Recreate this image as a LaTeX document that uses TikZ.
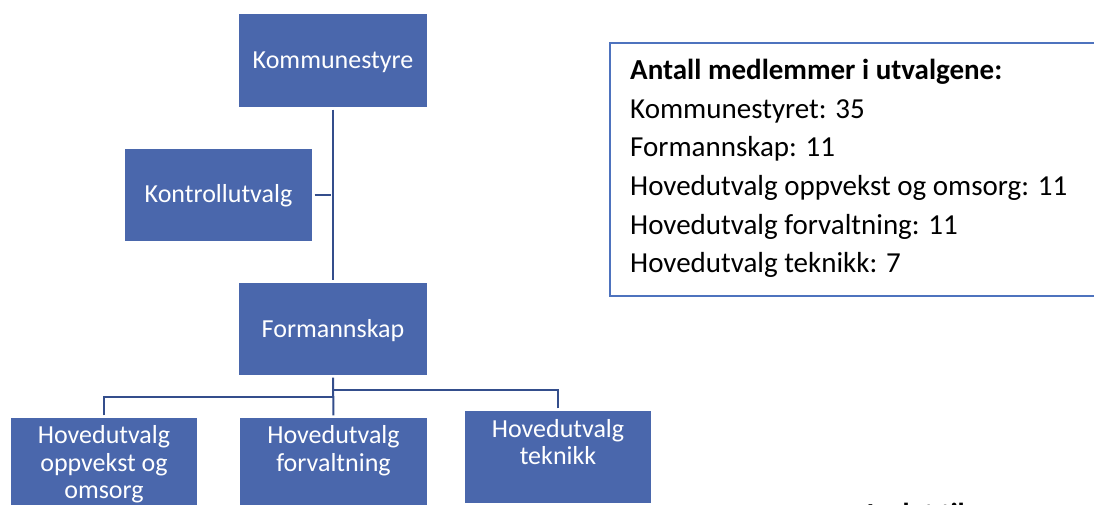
\documentclass[tikz,border=0pt]{standalone}
\usepackage{fontspec}
\setmainfont{Carlito}
\definecolor{boxfill}{RGB}{74,103,172}
\definecolor{conncol}{RGB}{52,78,140}
\definecolor{tbcol}{RGB}{78,115,190}
\begin{document}
\begin{tikzpicture}[x=1pt,y=-1pt,
  box/.style={fill=boxfill,draw=none,inner sep=0pt,minimum width=188pt,minimum height=93pt,
    text=white,font=\fontsize{26}{28}\selectfont,text height=21pt,text depth=5pt},
  lbl/.style={text=white,font=\fontsize{26}{28}\selectfont,anchor=base,inner sep=0pt},
  conn/.style={draw=conncol,line width=2pt,shorten <=2.5pt,shorten >=2.5pt},
  tbox/.style={draw=tbcol,line width=2pt,fill=none,inner sep=0pt,anchor=north west},
  tline/.style={anchor=base west,inner sep=0pt,text=black,font=\fontsize{29}{38.5}\selectfont}]
\useasboundingbox (0,0) rectangle (1094,505);
% boxes
\node[box] (ks) at (333,60.5) {Kommunestyre};
\node[box,minimum width=187pt,minimum height=92pt] (ku) at (218.5,195) {Kontrollutvalg};
\node[box,minimum height=92pt] (fm) at (333,329) {Formannskap};
\node[box,minimum width=186pt] (ho) at (104,464.5) {};
\node[box,minimum width=187pt] (hf) at (333.5,464.5) {};
\node[box,minimum width=186pt,minimum height=92pt] (ht) at (558,457) {};
% box texts
\node[lbl] (ho1) at (104,443) {Hovedutvalg};
\node[lbl] (ho2) at (104,471) {oppvekst og};
\node[lbl] (ho3) at (104,498.5) {omsorg};
\node[lbl] (hf1) at (333.5,443) {Hovedutvalg};
\node[lbl] (hf2) at (333.5,471) {forvaltning};
\node[lbl] (ht1) at (558,437) {Hovedutvalg};
\node[lbl] (ht2) at (558,464) {teknikk};
% connectors
\draw[conn] (ks.south) -- (fm.north);
\draw[conn] (ku.east) -- (ku.east -| ks.south);
\draw[conn] (fm.south) -- (hf.north);
\draw[conn] (ho.north) -- ++(0,-21) -| (fm.south);
\draw[conn] (ht.north) -- ++(0,-21) -| (fm.south);
% text box
\node[tbox,minimum width=500pt,minimum height=253pt] (tb) at (609,42) {};
\node[tline,font={\fontsize{29}{38.5}\selectfont\bfseries}] (t0) at (630,80) {Antall medlemmer i utvalgene:};
\node[tline] (t1) at (630,118.5) {Kommunestyret: 35};
\node[tline] (t2) at (630,157) {Formannskap: 11};
\node[tline] (t3) at (630,195.5) {Hovedutvalg oppvekst og omsorg: 11};
\node[tline] (t4) at (630,234) {Hovedutvalg forvaltning: 11};
\node[tline] (t5) at (630,272.5) {Hovedutvalg teknikk: 7};
% partly visible text below
\node[tline,font={\fontsize{29}{35}\selectfont\bfseries}] (lt) at (867,523) {Ledet til};
\end{tikzpicture}
\end{document}
